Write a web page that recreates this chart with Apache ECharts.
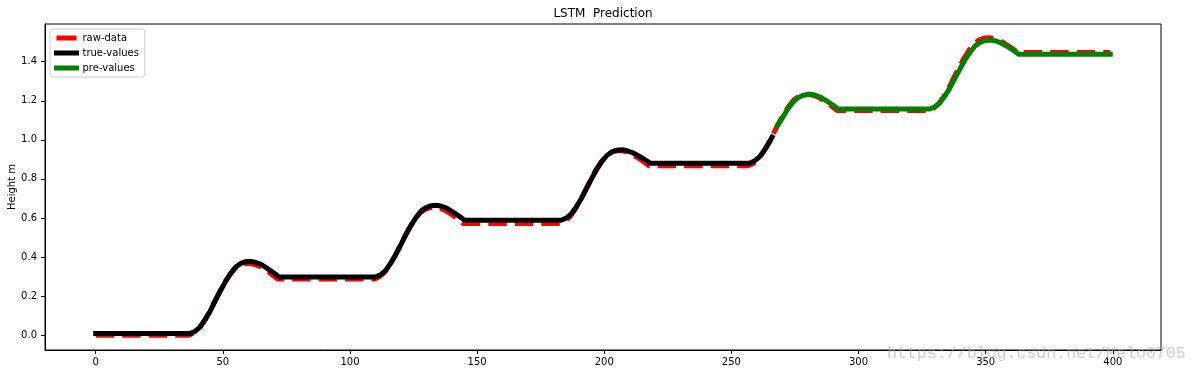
<!DOCTYPE html>
<html>
<head>
<meta charset="utf-8">
<script src="https://cdn.jsdelivr.net/npm/echarts@6/dist/echarts.min.js"></script>
<style>html,body{margin:0;padding:0;background:#fff;}#c{width:1199px;height:374px;}</style>
</head>
<body>
<div id="c"></div>
<script>
// ---- data ----
const xTicks = [0, 50, 100, 150, 200, 250, 300, 350, 400];
const yTicks = [0.0, 0.2, 0.4, 0.6, 0.8, 1.0, 1.2, 1.4];
const seriesNames = ['raw-data', 'true-values', 'pre-values'];

const rawData = [
  [0,0],[36.5,0],[38.5,0.011],[40.5,0.033],[42.5,0.070],[44.5,0.114],[46.5,0.166],[48.5,0.217],[50.5,0.265],[52.5,0.305],[54.5,0.339],[56.5,0.357],[58.5,0.366],[60.5,0.368],[62.5,0.362],[64.5,0.352],[66.5,0.336],[68.5,0.318],[70.5,0.298],[71.5,0.287],
  [109.5,0.287],[111.5,0.298],[113.5,0.320],[115.5,0.357],[117.5,0.401],[119.5,0.453],[121.5,0.504],[123.5,0.552],[125.5,0.592],[127.5,0.626],[129.5,0.644],[131.5,0.653],[133.5,0.655],[135.5,0.649],[137.5,0.638],[139.5,0.622],[141.5,0.604],[143.5,0.584],[144.5,0.572],
  [182.5,0.572],[184.5,0.583],[186.5,0.606],[188.5,0.643],[190.5,0.688],[192.5,0.740],[194.5,0.792],[196.5,0.841],[198.5,0.882],[200.5,0.915],[202.5,0.934],[204.5,0.943],[206.5,0.945],[208.5,0.940],[210.5,0.929],[212.5,0.914],[214.5,0.897],[216.5,0.878],[217.5,0.867],
  [256.5,0.867],[258.5,0.878],[260.5,0.900],[262.5,0.937],[264.5,0.980],[266.5,1.032],[268.5,1.083],[270.5,1.131],[272.5,1.171],[274.5,1.204],[276.5,1.222],[278.5,1.231],[280.5,1.233],[282.5,1.227],[284.5,1.216],[286.5,1.200],[288.5,1.182],[290.5,1.162],[291.5,1.150],
  [327.5,1.150],[329.5,1.161],[331.5,1.184],[333.5,1.221],[335.5,1.266],[337.5,1.318],[339.5,1.370],[341.5,1.419],[343.5,1.460],[345.5,1.493],[347.5,1.512],[349.5,1.521],[351.5,1.523],[353.5,1.518],[355.5,1.508],[357.5,1.493],[359.5,1.476],[361.5,1.458],[362.5,1.447],[399,1.447]
];

const trueValues = [
  [0,0.008],[37,0.008],[39,0.019],[41,0.041],[43,0.078],[45,0.123],[47,0.175],[49,0.226],[51,0.274],[53,0.315],[55,0.348],[57,0.367],[59,0.376],[61,0.378],[63,0.372],[65,0.362],[67,0.346],[69,0.328],[71,0.309],[72,0.298],
  [110,0.298],[112,0.309],[114,0.331],[116,0.368],[118,0.412],[120,0.463],[122,0.515],[124,0.562],[126,0.603],[128,0.636],[130,0.654],[132,0.663],[134,0.665],[136,0.660],[138,0.650],[140,0.634],[142,0.617],[144,0.599],[145,0.588],
  [183,0.588],[185,0.599],[187,0.620],[189,0.657],[191,0.700],[193,0.750],[195,0.801],[197,0.848],[199,0.888],[201,0.920],[203,0.938],[205,0.947],[207,0.949],[209,0.944],[211,0.935],[213,0.921],[215,0.906],[217,0.890],[218,0.880],
  [257,0.880],[259,0.891],[261,0.912],[263,0.947],[265,0.989],[266,1.014]
];

const preValues = [
  [268,1.070],[270,1.111],[272,1.154],[274,1.189],[276,1.214],[278,1.227],[280,1.232],[281,1.233],[283,1.228],[285,1.218],[287,1.203],[289,1.186],[291,1.168],[292,1.158],
  [328,1.158],[330,1.169],[332,1.190],[334,1.225],[336,1.267],[338,1.317],[340,1.366],[342,1.412],[344,1.451],[346,1.483],[348,1.500],[350,1.509],[352,1.511],[354,1.506],[356,1.496],[358,1.482],[360,1.466],[362,1.448],[363,1.438],[399,1.438]
];

// ---- chart ----
const FONT = 'DejaVu Sans';
const chart = echarts.init(document.getElementById('c'), null, {renderer: 'canvas'});
chart.setOption({
  animation: false,
  backgroundColor: '#fff',
  title: {
    text: 'LSTM  Prediction',
    left: 603, top: 8, padding: 0, textAlign: 'center',
    textStyle: {fontFamily: FONT, fontSize: 12, fontWeight: 'normal', color: '#000'}
  },
  grid: {left: 45, right: 38, top: 24, bottom: 24, containLabel: false, outerBoundsMode: 'none',
    show: true, borderColor: '#000', borderWidth: 1, backgroundColor: 'transparent'},
  legend: {
    orient: 'vertical', left: 50, top: 29,
    padding: [4, 6, 4, 4],
    itemWidth: 20, itemHeight: 12, itemGap: 5,
    backgroundColor: 'rgba(255,255,255,0.8)', borderColor: '#cccccc', borderWidth: 1, borderRadius: 3,
    textStyle: {fontFamily: FONT, fontSize: 10, color: '#000', padding: [0, 0, 0, 1]},
    itemStyle: {opacity: 0},
    data: [
      {name: seriesNames[0], lineStyle: {width: 5, color: '#ff0000', type: 'solid', cap: 'butt'}},
      {name: seriesNames[1], lineStyle: {width: 5, color: '#000000', type: 'solid', cap: 'square'}},
      {name: seriesNames[2], lineStyle: {width: 5, color: '#008000', type: 'solid', cap: 'square'}}
    ]
  },
  xAxis: {
    type: 'value', min: -19.95, max: 418.95,
    axisLine: {show: true, onZero: false, lineStyle: {color: '#000', width: 1}},
    axisTick: {show: true, length: 4, customValues: xTicks, lineStyle: {color: '#000', width: 1}},
    splitLine: {show: false},
    axisLabel: {customValues: xTicks, margin: 7, fontFamily: FONT, fontSize: 10, color: '#000'}
  },
  yAxis: {
    type: 'value', min: -0.076, max: 1.593,
    axisLine: {show: true, onZero: false, lineStyle: {color: '#000', width: 1}},
    axisTick: {show: true, length: 4, customValues: yTicks, lineStyle: {color: '#000', width: 1}},
    splitLine: {show: false},
    name: 'Height m', nameLocation: 'middle', nameGap: 28, nameRotate: 90, nameMoveOverlap: false,
    nameTextStyle: {fontFamily: FONT, fontSize: 10, color: '#000'},
    axisLabel: {customValues: yTicks, margin: 8, fontFamily: FONT, fontSize: 10, color: '#000',
      formatter: v => v.toFixed(1)}
  },
  series: [
    {name: seriesNames[0], type: 'line', data: rawData, symbol: 'none', showSymbol: false, smooth: false,
      lineStyle: {color: '#ff0000', width: 5, type: [18.5, 8], cap: 'butt', join: 'round'}, itemStyle: {color: '#ff0000'}, z: 2},
    {name: seriesNames[1], type: 'line', data: trueValues, symbol: 'none', showSymbol: false, smooth: false,
      lineStyle: {color: '#000000', width: 5, cap: 'square', join: 'round'}, itemStyle: {color: '#000000'}, z: 3},
    {name: seriesNames[2], type: 'line', data: preValues, symbol: 'none', showSymbol: false, smooth: false,
      lineStyle: {color: '#008000', width: 5, cap: 'square', join: 'round'}, itemStyle: {color: '#008000'}, z: 4}
  ],
  graphic: [{
    type: 'text', left: 887, top: 345, z: 100, silent: true,
    style: {text: 'https://blog.csdn.net/Melo0705', font: '16.6px "Liberation Mono"', fill: 'rgba(170,170,170,0.6)'}
  }]
});
</script>
</body>
</html>
